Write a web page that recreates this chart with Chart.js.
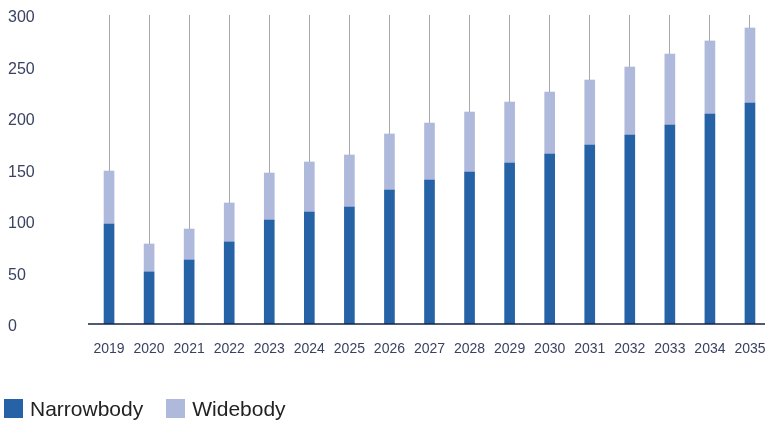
<!DOCTYPE html>
<html>
<head>
<meta charset="utf-8">
<script src="https://cdn.jsdelivr.net/npm/chart.js@4/dist/chart.umd.min.js"></script>
<style>
  html, body { margin: 0; padding: 0; background: #fff; overflow: hidden; }
  #wrap { position: relative; width: 770px; height: 421px; }
  #fleetChart { display: block; }
  #legend { position: absolute; left: 4px; top: 399px; display: flex; font-family: "Liberation Sans", Arial, sans-serif; font-size: 21px; color: #222; }
  .item { display: flex; align-items: flex-start; margin-right: 23px; line-height: 19px; }
  .box { width: 19px; height: 19px; margin-right: 7px; }
</style>
</head>
<body>
<div id="wrap">
  <canvas id="fleetChart" width="770" height="421"></canvas>
  <div id="legend"></div>
</div>
<script>
// Deliveries per year, split by aircraft type
const years = ['2019', '2020', '2021', '2022', '2023', '2024', '2025', '2026', '2027',
               '2028', '2029', '2030', '2031', '2032', '2033', '2034', '2035'];
const narrowbody = [97.1, 50.5, 62.1, 79.6, 101.0, 108.7, 113.6, 130.1, 139.8,
                    147.6, 156.3, 165.0, 173.8, 183.5, 193.2, 203.9, 214.6];
const widebody = [51.4, 27.2, 30.1, 37.9, 45.6, 48.6, 50.5, 54.4, 55.3,
                  58.2, 59.2, 60.2, 63.1, 66.0, 68.9, 70.9, 72.8];
const yTicks = [0, 50, 100, 150, 200, 250, 300];

const ctx = document.getElementById('fleetChart').getContext('2d');
const chart = new Chart(ctx, {
    type: 'bar',
    data: {
        labels: years,
        datasets: [
            { label: 'Narrowbody', data: narrowbody, backgroundColor: '#2662a6' },
            { label: 'Widebody', data: widebody, backgroundColor: '#afb9dc' }
        ]
    },
    options: {
        responsive: false,
        animation: false,
        layout: { padding: { left: 8, top: 15, right: 0, bottom: 57 } },
        datasets: { bar: { barThickness: 10, borderWidth: 0 } },
        plugins: {
            legend: { display: false },
            tooltip: { enabled: false }
        },
        scales: {
            x: {
                stacked: true,
                offset: true,
                grid: { offset: false, color: '#a8a8a8', lineWidth: 1, drawTicks: false },
                border: { display: true, color: 'rgba(22, 32, 72, 0.75)', width: 2, z: 1 },
                ticks: {
                    padding: 17,
                    color: '#3a4262',
                    maxRotation: 0,
                    autoSkip: false,
                    font: { family: '"Liberation Sans", Arial, sans-serif', size: 14 }
                },
                afterFit: function(scale) {
                    scale.height = 40;
                    scale.paddingRight = 0;
                    scale.paddingLeft = 0;
                }
            },
            y: {
                stacked: true,
                min: 0,
                max: 300,
                grid: { display: false },
                border: { display: false },
                afterBuildTicks: function(scale) {
                    scale.ticks = yTicks.map(v => ({ value: v }));
                },
                ticks: {
                    crossAlign: 'far',
                    labelOffset: 3,
                    color: '#3a4262',
                    font: { family: '"Liberation Sans", Arial, sans-serif', size: 16 }
                },
                afterFit: function(scale) { scale.width = 81; }
            }
        }
    }
});

// Build the legend from the datasets
const legend = document.getElementById('legend');
chart.data.datasets.forEach(function(ds) {
    const item = document.createElement('div');
    item.className = 'item';
    const box = document.createElement('span');
    box.className = 'box';
    box.style.background = ds.backgroundColor;
    const text = document.createElement('span');
    text.textContent = ds.label;
    item.appendChild(box);
    item.appendChild(text);
    legend.appendChild(item);
});
</script>
</body>
</html>
